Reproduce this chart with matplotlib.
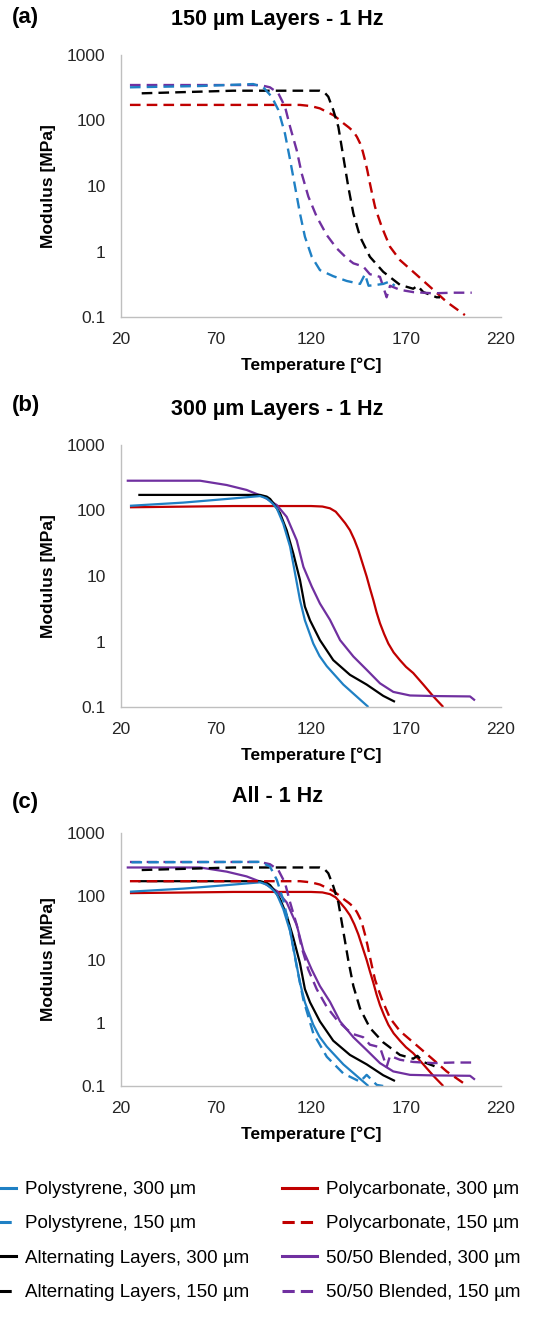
from matplotlib import pyplot as plt
from matplotlib.lines import Line2D

plt.rcParams['font.family'] = ['Liberation Sans', 'DejaVu Sans']

# --- data (temperature in C, modulus in MPa) ---
ps300_T = [24.7, 52.8, 79.1, 90, 93.2, 96.7, 99.5, 102, 105.4, 109, 111.6, 114.2, 116.8, 121.2, 124.5,
           128.3, 137, 145.8, 150.2]
ps300_E = [118, 132, 153, 163, 166, 153, 130, 108, 63, 28, 11, 4.3, 2.1, 0.93, 0.6,
           0.42, 0.22, 0.13, 0.1]

pc300_T = [24.7, 79, 120, 126, 130, 133, 135.3, 138, 140.5, 142.8, 144.9, 147, 149.3, 151, 152.8, 154.5,
           156.3, 158.5, 160.7, 163.5, 166.8, 170, 173.8, 179.1, 184.4, 189.6]
pc300_E = [112, 117, 117, 115, 108, 96, 80, 64, 50, 36, 25, 16, 9.8, 6.5, 4.3, 2.8,
           1.9, 1.3, 0.93, 0.68, 0.52, 0.41, 0.33, 0.22, 0.145, 0.1]

alt300_T = [29.1, 93.2, 96.7, 98.5, 100.2, 103.7, 107.2, 110.7, 114.2, 116.8, 119.5, 124.7, 131.7, 140.5,
            149.3, 158, 164.2]
alt300_E = [173, 173, 163, 150, 129, 91, 50, 22, 8.7, 3.4, 2.1, 1.05, 0.52, 0.31,
            0.22, 0.148, 0.12]

blend300_T = [23, 61.6, 75.6, 86.1, 94.9, 102, 107.2, 112.5, 116, 120.4, 124.7, 130, 135.3, 142.3,
              149.3, 156.3, 163.3, 172.1, 184.4, 203.7, 206.3]
blend300_E = [285, 285, 245, 206, 163, 121, 80, 35, 13.8, 6.9, 3.8, 2.14, 1.05, 0.59,
              0.37, 0.23, 0.17, 0.15, 0.147, 0.145, 0.126]

ps150_T = [24.7, 61.6, 89.6, 94.9, 99.3, 102.8, 106.3, 109, 111.6, 114.2, 116.8, 120.4, 124.7, 131.7,
           138.8, 145.8, 148.4, 150.3, 154.6, 158, 161.6, 164]
ps150_E = [321, 336, 360, 321, 231, 145, 63, 25, 9.8, 3.8, 1.68, 0.83, 0.52, 0.42,
           0.355, 0.32, 0.45, 0.3, 0.31, 0.32, 0.35, 0.3]

# polystyrene 150 um as it appears in the "All" panel
ps150c_T = [25.5, 93.2, 98.4, 102, 105.4, 109, 112.5, 116, 121.2, 128.3, 137, 145.8, 149.3, 154.6, 158]
ps150c_E = [344, 350, 295, 182, 87, 29, 7.7, 2.3, 0.68, 0.29, 0.158, 0.117, 0.15, 0.104, 0.1]

pc150_T = [24.7, 114.2, 120, 124.7, 128, 131.7, 134.5, 137, 140, 142.3, 144.2, 145.8, 147.2, 148.4,
           149.7, 151, 152.3, 153.7, 155.4, 157.2, 159.3, 161.6, 166.8, 175.6, 184.4, 191.4, 201]
pc150_E = [173, 173, 166, 153, 137, 121, 105, 91, 78, 68, 56, 45, 34, 25,
           17, 11, 7.3, 4.8, 3.4, 2.4, 1.7, 1.18, 0.74, 0.44, 0.26, 0.17, 0.107]

alt150_T = [30.9, 79, 124.7, 127, 129.1, 131.7, 134.4, 137, 139.6, 142.3, 145.8, 151, 158, 166.8,
            173.8, 176, 179.1, 186.1, 187.9]
alt150_E = [260, 285, 285, 270, 231, 145, 80, 28, 9.8, 3.8, 1.68, 0.83, 0.49, 0.31,
            0.27, 0.3, 0.24, 0.2, 0.2]

blend150_T = [24.7, 93.2, 98.4, 102.8, 106.3, 109, 112.5, 115.1, 118.6, 123, 128.3, 133.5, 138.8,
              142.3, 147.5, 151, 156.3, 159.8, 161.6, 166.8, 173.8, 184.4, 194.9, 204.6]
blend150_E = [348, 348, 321, 260, 163, 80, 35, 15.5, 6.9, 3.4, 1.78, 1.12, 0.79,
              0.66, 0.59, 0.45, 0.41, 0.2, 0.3, 0.26, 0.24, 0.23, 0.235, 0.235]

x_ticks = [20, 70, 120, 170, 220]
y_ticks = [0.1, 1, 10, 100, 1000]
y_tick_labels = ["0.1", "1", "10", "100", "1000"]

BLUE = "#1f80c4"
RED = "#c00000"
BLACK = "#000000"
PURPLE = "#7030a0"
DASH = (0, (4.5, 2.6))

labels = ["Polystyrene, 300 µm", "Polystyrene, 150 µm",
          "Alternating Layers, 300 µm", "Alternating Layers, 150 µm",
          "Polycarbonate, 300 µm", "Polycarbonate, 150 µm",
          "50/50 Blended, 300 µm", "50/50 Blended, 150 µm"]

solid_series = [(pc300_T, pc300_E, RED), (blend300_T, blend300_E, PURPLE),
                (alt300_T, alt300_E, BLACK), (ps300_T, ps300_E, BLUE)]
dashed_a = [(pc150_T, pc150_E, RED), (alt150_T, alt150_E, BLACK),
            (blend150_T, blend150_E, PURPLE), (ps150_T, ps150_E, BLUE)]
dashed_c = [(pc150_T, pc150_E, RED), (alt150_T, alt150_E, BLACK),
            (blend150_T, blend150_E, PURPLE), (ps150c_T, ps150c_E, BLUE)]

W, H = 550, 1320
fig = plt.figure(figsize=(W / 100, H / 100), dpi=100)


def make_axes(top_px, bottom_px):
    """ axes in pixel coordinates of the figure """
    left, right = 121, 501
    ax = fig.add_axes([left / W, 1 - bottom_px / H, (right - left) / W, (bottom_px - top_px) / H])
    ax.set_yscale("log")
    ax.set_xlim(20, 220)
    ax.set_ylim(0.1, 1000)
    ax.set_xticks(x_ticks)
    ax.set_yticks(y_ticks)
    ax.set_yticklabels(y_tick_labels)
    ax.minorticks_off()
    ax.tick_params(length=0, labelsize=12.5, colors="#262626", pad=11)
    for side in ["top", "right"]:
        ax.spines[side].set_visible(False)
    for side in ["left", "bottom"]:
        ax.spines[side].set_color("#bfbfbf")
        ax.spines[side].set_linewidth(1.0)
    ax.set_xlabel("Temperature [°C]", fontsize=12.5, fontweight="bold", labelpad=7)
    ax.set_ylabel("Modulus [MPa]", fontsize=12.5, fontweight="bold", labelpad=8)
    ax.patch.set_alpha(0)
    return ax


def draw(ax, series, style, lw):
    for T, E, c in series:
        ax.plot(T, E, color=c, linestyle=style, linewidth=lw, solid_capstyle="butt",
                dash_capstyle="butt", solid_joinstyle="round", dash_joinstyle="round")


# (a) 150 um layers
ax_a = make_axes(55, 317)
draw(ax_a, dashed_a, DASH, 1.7)

# (b) 300 um layers
ax_b = make_axes(445, 707)
draw(ax_b, solid_series, "-", 1.6)

# (c) all
ax_c = make_axes(833, 1086)
draw(ax_c, solid_series, "-", 1.6)
draw(ax_c, dashed_c, DASH, 1.7)

# titles and panel letters
for y_px, title, letter, ly in [(20, "150 µm Layers - 1 Hz", "(a)", 17),
                               (409, "300 µm Layers - 1 Hz", "(b)", 405),
                               (797, "All - 1 Hz", "(c)", 803)]:
    fig.text(277 / W, 1 - y_px / H, title, ha="center", va="center", fontsize=15.5, fontweight="bold")
    fig.text(12 / W, 1 - ly / H, letter, ha="left", va="center", fontsize=16, fontweight="bold")

# legend, two columns, partly running off the figure like the original
handles = [Line2D([], [], color=BLUE, lw=2.2), Line2D([], [], color=BLUE, lw=2.2, linestyle=(0, (4, 2))),
           Line2D([], [], color=BLACK, lw=2.2), Line2D([], [], color=BLACK, lw=2.2, linestyle=(0, (4, 2))),
           Line2D([], [], color=RED, lw=2.2), Line2D([], [], color=RED, lw=2.2, linestyle=(0, (4, 2))),
           Line2D([], [], color=PURPLE, lw=2.2), Line2D([], [], color=PURPLE, lw=2.2, linestyle=(0, (4, 2)))]

for x_px, idx in [(-19, [0, 1, 2, 3]), (282, [4, 5, 6, 7])]:
    fig.legend([handles[i] for i in idx], [labels[i] for i in idx],
               loc="upper left", bbox_to_anchor=(x_px / W, 1 - 1181 / H),
               frameon=False, fontsize=13.5, borderpad=0, borderaxespad=0,
               handlelength=1.87, handletextpad=0.5, labelspacing=0.92)

fig.savefig("out.png", dpi=100)
